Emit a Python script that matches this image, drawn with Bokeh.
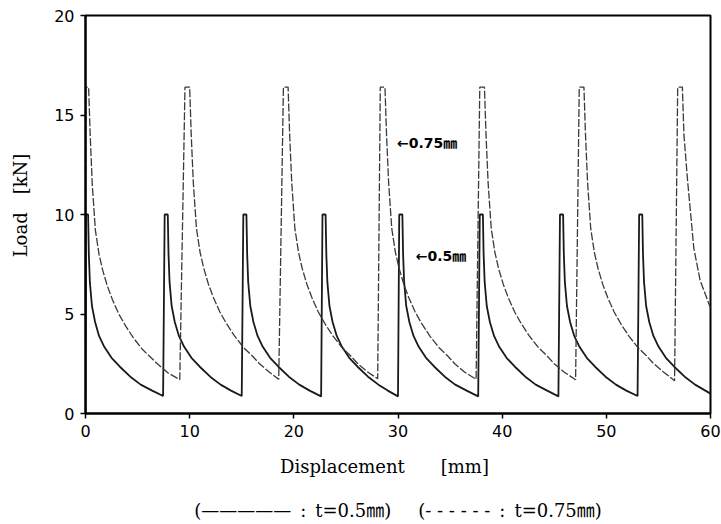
import math
from bokeh.plotting import figure
from bokeh.models import Range1d, Label, FixedTicker, LinearAxis
from bokeh.embed import file_html
from bokeh.resources import INLINE

# ---- data ----
x_ticks = [0, 10, 20, 30, 40, 50, 60]
y_ticks = [0, 5, 10, 15, 20]

# t = 0.5 mm (solid)
disp_05 = [0.0, 0.05, 0.25, 0.32, 0.42, 0.62, 0.92, 1.3, 1.8, 2.5, 3.3, 4.3, 5.3, 6.4, 7.45,
           7.6, 7.9, 7.97, 8.07, 8.27, 8.57, 8.97, 9.47, 10.17, 10.97, 11.97, 12.97, 13.97, 15.0,
           15.15, 15.45, 15.52, 15.62, 15.82, 16.12, 16.52, 17.02, 17.72, 18.52, 19.52, 20.52, 21.52, 22.62,
           22.75, 23.05, 23.12, 23.22, 23.42, 23.72, 24.12, 24.62, 25.32, 26.12, 27.12, 28.12, 29.02, 30.0,
           30.12, 30.42, 30.49, 30.59, 30.79, 31.09, 31.49, 31.99, 32.69, 33.49, 34.49, 35.49, 36.59, 37.7,
           37.85, 38.15, 38.22, 38.32, 38.52, 38.82, 39.22, 39.72, 40.42, 41.22, 42.22, 43.22, 44.32, 45.4,
           45.55, 45.85, 45.92, 46.02, 46.22, 46.52, 46.92, 47.42, 48.12, 48.92, 49.92, 50.92, 51.92, 53.0,
           53.15, 53.45, 53.52, 53.62, 53.82, 54.12, 54.52, 55.02, 55.72, 56.52, 57.52, 58.52, 60.0]
load_05 = [0.0, 10.0, 10.0, 8.0, 6.6, 5.4, 4.6, 3.9, 3.35, 2.8, 2.35, 1.85, 1.45, 1.15, 0.88,
           10.0, 10.0, 8.0, 6.6, 5.4, 4.6, 3.9, 3.35, 2.8, 2.35, 1.85, 1.45, 1.15, 0.88,
           10.0, 10.0, 8.0, 6.6, 5.4, 4.6, 3.9, 3.35, 2.8, 2.35, 1.85, 1.45, 1.15, 0.86,
           10.0, 10.0, 8.0, 6.6, 5.4, 4.6, 3.9, 3.35, 2.8, 2.35, 1.85, 1.45, 1.15, 0.86,
           10.0, 10.0, 8.0, 6.6, 5.4, 4.6, 3.9, 3.35, 2.8, 2.35, 1.85, 1.45, 1.15, 0.86,
           10.0, 10.0, 8.0, 6.6, 5.4, 4.6, 3.9, 3.35, 2.8, 2.35, 1.85, 1.45, 1.15, 0.86,
           10.0, 10.0, 8.0, 6.6, 5.4, 4.6, 3.9, 3.35, 2.8, 2.35, 1.85, 1.45, 1.15, 0.88,
           10.0, 10.0, 8.0, 6.6, 5.4, 4.6, 3.9, 3.35, 2.8, 2.35, 1.85, 1.45, 1.0]

# t = 0.75 mm (dashed)
disp_075 = [0.0, 0.05, 0.3, 0.45, 0.65, 0.95, 1.3, 1.65, 2.1, 2.6, 3.2, 3.85, 4.6, 5.5, 6.3, 7.0, 7.9, 9.05,
            9.55, 10.0, 10.15, 10.35, 10.65, 11.0, 11.35, 11.8, 12.3, 12.9, 13.55, 14.3, 15.2, 16.0, 16.7, 17.6, 18.55,
            19.0, 19.45, 19.6, 19.8, 20.1, 20.45, 20.8, 21.25, 21.75, 22.35, 23.0, 23.75, 24.65, 25.45, 26.15, 27.05, 28.05,
            28.3, 28.75, 28.9, 29.1, 29.4, 29.75, 30.1, 30.55, 31.05, 31.65, 32.3, 33.05, 33.95, 34.75, 35.45, 36.35, 37.5,
            37.85, 38.3, 38.45, 38.65, 38.95, 39.3, 39.65, 40.1, 40.6, 41.2, 41.85, 42.6, 43.5, 44.3, 45.0, 45.9, 47.05,
            47.4, 47.85, 48.0, 48.2, 48.5, 48.85, 49.2, 49.65, 50.15, 50.75, 51.4, 52.15, 53.05, 53.85, 54.55, 55.45, 56.55,
            56.85, 57.3, 57.45, 57.8, 58.4, 59.0, 60.0]
load_075 = [0.0, 16.4, 16.4, 14.0, 11.5, 9.2, 8.0, 7.2, 6.4, 5.7, 5.0, 4.4, 3.8, 3.2, 2.8, 2.45, 2.05, 1.7,
            16.4, 16.4, 14.0, 11.6, 9.3, 8.1, 7.3, 6.5, 5.8, 5.1, 4.5, 3.9, 3.3, 2.9, 2.5, 2.1, 1.72,
            16.4, 16.4, 14.0, 11.6, 9.3, 8.1, 7.3, 6.5, 5.8, 5.1, 4.5, 3.9, 3.3, 2.9, 2.5, 2.1, 1.75,
            16.4, 16.4, 14.0, 11.6, 9.3, 8.1, 7.3, 6.5, 5.8, 5.1, 4.5, 3.9, 3.3, 2.9, 2.5, 2.1, 1.72,
            16.4, 16.4, 14.0, 11.6, 9.3, 8.1, 7.3, 6.5, 5.8, 5.1, 4.5, 3.9, 3.3, 2.9, 2.5, 2.1, 1.7,
            16.4, 16.4, 14.0, 11.6, 9.3, 8.1, 7.3, 6.5, 5.8, 5.1, 4.5, 3.9, 3.3, 2.9, 2.5, 2.1, 1.65,
            16.4, 16.4, 14.0, 11.7, 8.3, 6.7, 5.3]

x_title = "Displacement\u2003\u2003[mm]\u2003\u2002"
y_title = "\u2003Load\u2003[kN]"
legend_text = ("(—————\u2002:\u2002t=0.5㎜)\u2003\u2002"
               "(- - - - - -\u2002:\u2002t=0.75㎜)")
label_075 = "←0.75㎜"
label_05 = "←0.5㎜"

# ---- figure ----
p = figure(width=721, height=524, output_backend="svg", toolbar_location=None,
           x_range=Range1d(0, 60), y_range=Range1d(0, 20), title=None,
           min_border_left=85, min_border_right=11, min_border_top=15, min_border_bottom=111)
p.background_fill_color = "white"
p.border_fill_color = "white"
p.grid.visible = False
p.outline_line_color = "black"
p.outline_line_width = 2
p.outline_line_alpha = 1.0

serif = "DejaVu Serif, Noto Sans CJK JP"

for ax, ticks in ((p.xaxis, x_ticks), (p.yaxis, y_ticks)):
    ax.ticker = FixedTicker(ticks=ticks)
    ax.axis_line_width = 2
    ax.axis_line_color = "black"
    ax.major_tick_out = 5
    ax.major_tick_in = 0
    ax.major_tick_line_width = 1.5
    ax.minor_tick_out = 0
    ax.minor_tick_in = 0
    ax.major_label_text_font = "DejaVu Sans"
    ax.major_label_text_font_size = "16px"
    ax.major_label_text_color = "black"
    ax.axis_label_text_font = serif
    ax.axis_label_text_font_size = "18px"
    ax.axis_label_text_font_style = "normal"
    ax.axis_label_text_color = "black"
p.xaxis.major_label_standoff = 6
p.yaxis.major_label_standoff = 6
p.xaxis.axis_label = x_title
p.xaxis.axis_label_standoff = 16
p.yaxis.axis_label = y_title
p.yaxis.axis_label_standoff = 20

# extra, tick-less axis that carries the legend line
leg_axis = LinearAxis(ticker=FixedTicker(ticks=[]), axis_line_color=None,
                      major_tick_line_color=None, minor_tick_line_color=None,
                      major_label_text_font_size="0px",
                      axis_label=legend_text, axis_label_standoff=20,
                      axis_label_text_font=serif, axis_label_text_font_size="18px",
                      axis_label_text_font_style="normal", axis_label_text_color="black")
p.add_layout(leg_axis, "below")

p.line(disp_05, load_05, line_color="#1a1a1a", line_width=1.8)
p.line(disp_075, load_075, line_color="#3a3a3a", line_width=1.3, line_dash="8 2")

# curve annotations
p.add_layout(Label(x=29.9, y=13.6, text=label_075, text_font="DejaVu Sans, Noto Sans CJK JP",
                   text_font_size="14px", text_font_style="bold", text_baseline="middle",
                   text_align="left", text_color="black"))
p.add_layout(Label(x=31.7, y=7.9, text=label_05, text_font="DejaVu Sans, Noto Sans CJK JP",
                   text_font_size="14px", text_font_style="bold", text_baseline="middle",
                   text_align="left", text_color="black"))

open("out.html", "w").write(file_html(p, INLINE))
